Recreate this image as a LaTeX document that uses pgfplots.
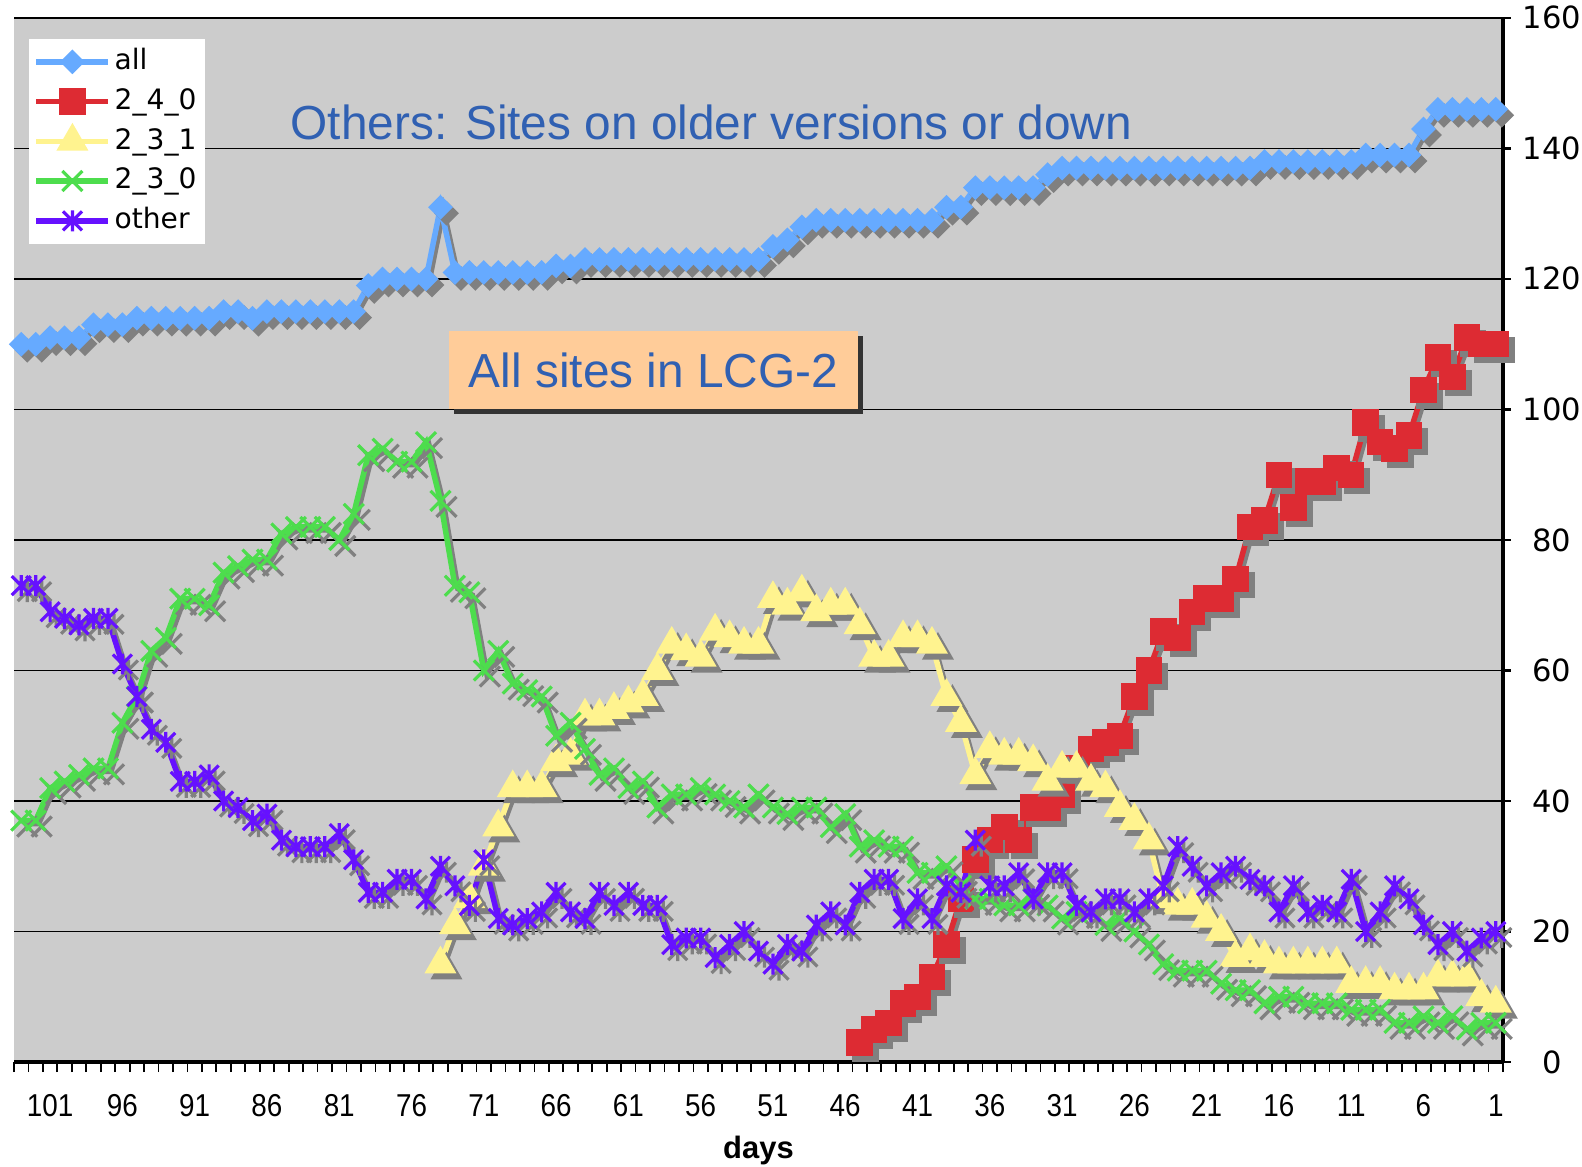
\documentclass[border=0pt]{standalone}
\usepackage{fontspec}
\setmainfont{Liberation Sans}
\newfontfamily\dejavu{DejaVu Sans}
\newfontfamily\condfont[FakeStretch=0.88]{Liberation Sans}
\usepackage{pgfplots}
\usepackage{pgfplotstable}
\pgfplotsset{compat=1.18}
\usetikzlibrary{shadows}

\definecolor{bgc}{RGB}{204,204,204}
\definecolor{allc}{RGB}{102,170,255}
\definecolor{redc}{RGB}{221,43,51}
\definecolor{yelc}{RGB}{255,243,143}
\definecolor{grnc}{RGB}{77,221,77}
\definecolor{purc}{RGB}{102,17,255}
\definecolor{shc}{RGB}{128,128,128}
\definecolor{titlec}{RGB}{48,96,178}
\definecolor{peach}{RGB}{255,204,153}

\pgfdeclareplotmark{xstar}{%
  \pgfpathmoveto{\pgfqpoint{-\pgfplotmarksize}{-\pgfplotmarksize}}%
  \pgfpathlineto{\pgfqpoint{\pgfplotmarksize}{\pgfplotmarksize}}%
  \pgfpathmoveto{\pgfqpoint{-\pgfplotmarksize}{\pgfplotmarksize}}%
  \pgfpathlineto{\pgfqpoint{\pgfplotmarksize}{-\pgfplotmarksize}}%
  \pgfpathmoveto{\pgfqpoint{0pt}{-1.1\pgfplotmarksize}}%
  \pgfpathlineto{\pgfqpoint{0pt}{1.1\pgfplotmarksize}}%
  \pgfusepathqstroke}
\pgfdeclareplotmark{bigx}{%
  \pgfpathmoveto{\pgfqpoint{-\pgfplotmarksize}{-\pgfplotmarksize}}%
  \pgfpathlineto{\pgfqpoint{\pgfplotmarksize}{\pgfplotmarksize}}%
  \pgfpathmoveto{\pgfqpoint{-\pgfplotmarksize}{\pgfplotmarksize}}%
  \pgfpathlineto{\pgfqpoint{\pgfplotmarksize}{-\pgfplotmarksize}}%
  \pgfusepathqstroke}

\pgfplotstableread{
d v
103 110
102 110
101 111
100 111
99 111
98 113
97 113
96 113
95 114
94 114
93 114
92 114
91 114
90 114
89 115
88 115
87 114
86 115
85 115
84 115
83 115
82 115
81 115
80 115
79 119
78 120
77 120
76 120
75 120
74 131
73 121
72 121
71 121
70 121
69 121
68 121
67 121
66 122
65 122
64 123
63 123
62 123
61 123
60 123
59 123
58 123
57 123
56 123
55 123
54 123
53 123
52 123
51 125
50 126
49 128
48 129
47 129
46 129
45 129
44 129
43 129
42 129
41 129
40 129
39 131
38 131
37 134
36 134
35 134
34 134
33 134
32 136
31 137
30 137
29 137
28 137
27 137
26 137
25 137
24 137
23 137
22 137
21 137
20 137
19 137
18 137
17 138
16 138
15 138
14 138
13 138
12 138
11 138
10 139
9 139
8 139
7 139
6 143
5 146
4 146
3 146
2 146
1 146
}\allt

\pgfplotstableread{
d v
45 3
44 5
43 6
42 9
41 10
40 13
39 18
38 25
37 31
36 34
35 36
34 34
33 39
32 39
31 41
30 45
29 48
28 49
27 50
26 56
25 60
24 66
23 65
22 69
21 71
20 71
19 74
18 82
17 83
16 90
15 85
14 89
13 89
12 91
11 90
10 98
9 95
8 94
7 96
6 103
5 108
4 105
3 111
2 110
1 110
}\redt

\pgfplotstableread{
d v
74 15
73 21
72 25
71 30
70 36
69 42
68 42
67 42
66 46
65 47
64 53
63 53
62 54
61 55
60 56
59 60
58 64
57 63
56 62
55 66
54 65
53 64
52 64
51 71
50 70
49 72
48 69
47 70
46 70
45 67
44 62
43 62
42 65
41 65
40 64
39 56
38 52
37 44
36 48
35 47
34 47
33 46
32 43
31 45
30 45
29 43
28 42
27 39
26 37
25 34
24 25
23 24
22 24
21 22
20 20
19 16
18 17
17 16
16 15
15 15
14 15
13 15
12 15
11 12
10 12
9 12
8 11
7 11
6 11
5 13
4 13
3 13
2 10
1 9
}\yelt

\pgfplotstableread{
d v
103 37
102 37
101 42
100 43
99 44
98 45
97 45
96 52
95 56
94 63
93 65
92 71
91 71
90 70
89 75
88 76
87 77
86 77
85 81
84 82
83 82
82 82
81 80
80 84
79 93
78 94
77 92
76 92
75 95
74 86
73 73
72 72
71 60
70 63
69 58
68 57
67 56
66 50
65 52
64 48
63 44
62 45
61 42
60 43
59 39
58 41
57 41
56 42
55 41
54 40
53 39
52 41
51 39
50 38
49 39
48 39
47 36
46 38
45 33
44 34
43 33
42 33
41 29
40 29
39 30
38 27
37 25
36 25
35 24
34 24
33 25
32 24
31 22
30 23
29 23
28 21
27 22
26 20
25 18
24 15
23 14
22 14
21 14
20 12
19 11
18 11
17 9
16 10
15 10
14 9
13 9
12 9
11 8
10 8
9 8
8 6
7 6
6 7
5 6
4 7
3 5
2 6
1 6
}\grnt

\pgfplotstableread{
d v
103 73
102 73
101 69
100 68
99 67
98 68
97 68
96 61
95 56
94 51
93 49
92 43
91 43
90 44
89 40
88 39
87 37
86 38
85 34
84 33
83 33
82 33
81 35
80 31
79 26
78 26
77 28
76 28
75 25
74 30
73 27
72 24
71 31
70 22
69 21
68 22
67 23
66 26
65 23
64 22
63 26
62 24
61 26
60 24
59 24
58 18
57 19
56 19
55 16
54 18
53 20
52 17
51 15
50 18
49 17
48 21
47 23
46 21
45 26
44 28
43 28
42 22
41 25
40 22
39 27
38 26
37 34
36 27
35 27
34 29
33 25
32 29
31 29
30 24
29 23
28 25
27 25
26 23
25 25
24 27
23 33
22 30
21 27
20 29
19 30
18 28
17 27
16 23
15 27
14 23
13 24
12 23
11 28
10 20
9 23
8 27
7 25
6 21
5 18
4 20
3 17
2 19
1 20
}\purt

\begin{document}
\begin{tikzpicture}
\useasboundingbox (-0.14cm,-1.04cm) rectangle (15.68cm,10.62cm);
\begin{axis}[
  at={(0,0)}, anchor=south west,
  scale only axis, width=14.89cm, height=10.44cm,
  x dir=reverse, xmin=0.5, xmax=103.5,
  ymin=0, ymax=160,
  xtick={1,6,...,101},
  minor xtick={0.5,1.5,...,103.5},
  ytick={0,20,...,160},
  axis x line*=bottom, axis y line*=right,
  axis line style={-, line width=0.9pt, black},
  tick align=outside,
  major tick length=0.8mm, minor tick length=1mm,
  major x tick style={draw=none},
  minor x tick style={line width=0.5pt, black},
  ytick style={line width=0.8pt, black},
  ymajorgrids, grid style={black, line width=0.5pt},
  axis background/.style={fill=bgc},
  /pgf/number format/assume math mode=true,
  xticklabel style={font=\condfont\fontsize{9}{10}\selectfont, anchor=base, yshift=-4.65mm},
  yticklabel style={font=\dejavu\fontsize{8.7}{10}\selectfont, anchor=base, xshift=4.1mm, yshift=-1.1mm},
  xlabel={days},
  xlabel style={font=\bfseries\fontsize{8.8}{10}\selectfont, at={(axis description cs:0.5,0)}, anchor=center, yshift=-8.8mm},
  clip=false,
  legend style={at={(0.0094,0.981)}, anchor=north west, draw=none, fill=white,
    font=\dejavu\fontsize{8}{9}\selectfont, inner xsep=0.5mm, inner ysep=0.6mm,
    row sep=0.55mm, nodes={inner ysep=0.4mm, inner xsep=0.35mm}},
  legend cell align=left,
  legend image code/.code={\draw[mark repeat=2,mark phase=2] plot coordinates {(0cm,0cm) (0.36cm,0cm) (0.72cm,0cm)};},
  every axis plot/.append style={line width=0.55mm},
]
% all
\addplot[shc, mark=square*, mark size=0.6mm, mark options={rotate=45}, transform canvas={xshift=0.3mm,yshift=-0.3mm}, forget plot] table[x=d,y=v] {\allt};
\addplot[allc, mark=square*, mark size=0.6mm, mark options={rotate=45}] table[x=d,y=v] {\allt};
\addlegendentry{all}
% 2_4_0
\addplot[shc, mark=square*, mark size=1.05mm, transform canvas={xshift=0.3mm,yshift=-0.3mm}, forget plot] table[x=d,y=v] {\redt};
\addplot[redc, mark=square*, mark size=1.05mm] table[x=d,y=v] {\redt};
\addlegendentry{2\_4\_0}
% 2_3_1
\addplot[shc, mark=triangle*, mark size=1.3mm, transform canvas={xshift=0.3mm,yshift=-0.3mm}, forget plot] table[x=d,y=v] {\yelt};
\addplot[yelc, mark=triangle*, mark size=1.3mm] table[x=d,y=v] {\yelt};
\addlegendentry{2\_3\_1}
% 2_3_0
\addplot[shc, mark=bigx, mark size=1.0mm, mark options={line width=0.32mm}, transform canvas={xshift=0.3mm,yshift=-0.3mm}, forget plot] table[x=d,y=v] {\grnt};
\addplot[grnc, mark=bigx, mark size=1.0mm, mark options={line width=0.32mm}] table[x=d,y=v] {\grnt};
\addlegendentry{2\_3\_0}
% other
\addplot[shc, mark=xstar, mark size=0.95mm, mark options={line width=0.32mm}, transform canvas={xshift=0.3mm,yshift=-0.3mm}, forget plot] table[x=d,y=v] {\purt};
\addplot[purc, mark=xstar, mark size=0.95mm, mark options={line width=0.32mm}] table[x=d,y=v] {\purt};
\addlegendentry{other}

\node[text=titlec, font=\fontsize{13.6}{16}\selectfont] at (axis description cs:0.4684,0.9004) {Others: Sites on older versions or down};
\node[fill=peach, text=titlec, font=\fontsize{13.6}{16}\selectfont, minimum width=4.09cm, minimum height=0.78cm, inner sep=0pt,
  drop shadow={shadow xshift=0.45mm, shadow yshift=-0.45mm, fill=black!80, opacity=1}] at (axis description cs:0.4295,0.6628) {All sites in LCG-2};
\end{axis}
\end{tikzpicture}
\end{document}
